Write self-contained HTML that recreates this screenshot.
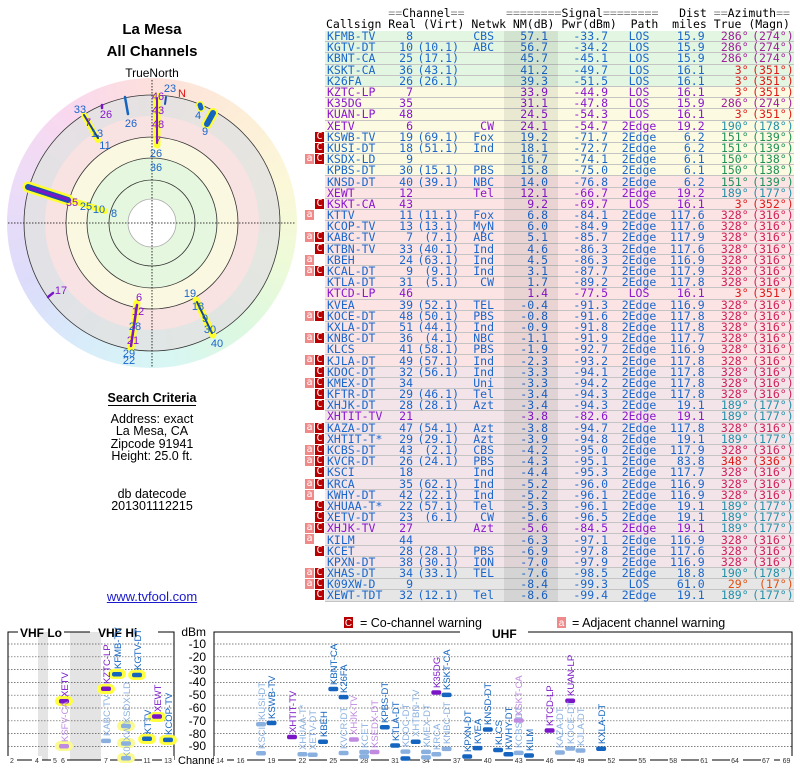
<!DOCTYPE html>
<html><head><meta charset="utf-8">
<style>
body{margin:0;background:#fff;width:800px;height:768px;overflow:hidden;position:relative;font-family:"Liberation Sans",sans-serif}
.abs{position:absolute}
.ttl{left:0;width:304px;text-align:center;font-weight:bold;font-size:15px;color:#000}
.crit{left:0;width:304px;text-align:center;font-size:12.5px;line-height:12.3px;color:#000}
pre{margin:0;font-family:"DejaVu Sans Mono",monospace;font-size:11.5px;line-height:11px;color:#000}
table{position:absolute;left:305px;top:31px;border-collapse:collapse;table-layout:fixed;font-family:"DejaVu Sans Mono",monospace;font-size:11.5px;color:#1a66cc}
td{height:10.19px;padding:0;line-height:10px;white-space:nowrap;overflow:visible;border-bottom:1px solid #c4c4c4;text-align:right}
td.i{background:#fff;border-bottom:1px solid #fff;text-align:left;position:relative}
td.c{text-align:left;padding-left:2px}
td.p{text-align:center}
tr.g td{background:#e3f6e1}tr.y td{background:#fcfbe2}tr.k td{background:#fce4e4}tr.l td{background:#f2e4e8}tr.x td{background:#e6e6e6}
tr td.i{background:#fff}
tr.v td{color:#8a16d0}
.a{position:absolute;left:0;top:0;width:9px;height:10px;background:#f08a8a;color:#fff;font-size:10px;line-height:9px;text-align:center}
.C{position:absolute;left:10px;top:0;width:9px;height:10px;background:#b80000;color:#fff;font-size:10px;line-height:10px;text-align:center}
.az1{color:#a0209a!important}.az2{color:#e01818!important}.az3{color:#2390a8!important}.az4{color:#20905a!important}.az5{color:#d0205a!important}.az6{color:#e05010!important}
</style></head><body>

<div class="abs ttl" style="top:21px">La Mesa</div>
<div class="abs ttl" style="top:43px">All Channels</div>
<div class="abs" style="left:0;width:304px;text-align:center;top:66px;font-size:12px">TrueNorth</div>

<div class="abs" style="left:7px;top:78px;width:290px;height:290px;border-radius:50%;background:conic-gradient(from 0deg,#fde0dc 0deg,#fdeed8 40deg,#fbf8d8 75deg,#eefad8 105deg,#dcf8e0 140deg,#d8f6f4 175deg,#d8ecfa 210deg,#dcdcfa 245deg,#ecdcf8 285deg,#fad8ee 325deg,#fde0dc 360deg)"></div>
<svg class="abs" style="left:0;top:60px" width="304" height="320" viewBox="0 60 304 320">
<circle cx="152" cy="223" r="128" fill="#e2e2e2" fill-opacity="0.85"/>
<circle cx="152" cy="223" r="107" fill="#fce2e2" fill-opacity="0.85"/>
<circle cx="152" cy="223" r="86" fill="#fcfbe0" fill-opacity="0.85"/>
<circle cx="152" cy="223" r="65" fill="#e2f6de" fill-opacity="0.9"/>
<circle cx="152" cy="223" r="24" fill="#fff"/>
<g fill="none" stroke="#333" stroke-width="0.8">
<circle cx="152" cy="223" r="128"/><circle cx="152" cy="223" r="86"/><circle cx="152" cy="223" r="65"/><circle cx="152" cy="223" r="43"/><circle cx="152" cy="223" r="24" stroke="#aaa"/></g>
<g stroke="#000" stroke-width="0.8" stroke-dasharray="1.5,1.5"><line x1="152" y1="80" x2="152" y2="368"/><line x1="8" y1="223" x2="296" y2="223"/></g>
<g stroke-linecap="round">
<line x1="28" y1="187" x2="68" y2="200" stroke="#ffff30" stroke-width="11"/>
<line x1="70" y1="200" x2="105" y2="211" stroke="#ffff30" stroke-width="6"/>
<line x1="28" y1="187" x2="68" y2="200" stroke="#1a4fb0" stroke-width="6"/>
<line x1="30" y1="188" x2="66" y2="199" stroke="#7a16c8" stroke-width="3"/>
<line x1="157" y1="96" x2="157" y2="145" stroke="#ffff30" stroke-width="7"/>
<line x1="157" y1="98" x2="157" y2="143" stroke="#7a16c8" stroke-width="2"/>
<line x1="166" y1="97" x2="165" y2="104" stroke="#1a4fb0" stroke-width="2"/>
<line x1="200" y1="105" x2="201" y2="108" stroke="#ffff30" stroke-width="8"/>
<line x1="200" y1="105" x2="201" y2="108" stroke="#1565c0" stroke-width="5"/>
<line x1="213" y1="113" x2="207" y2="124" stroke="#ffff30" stroke-width="10"/>
<line x1="213" y1="113" x2="207" y2="124" stroke="#1565c0" stroke-width="6"/>
<line x1="84" y1="115" x2="98" y2="140" stroke="#ffff30" stroke-width="6"/>
<line x1="84" y1="115" x2="98" y2="138" stroke="#1a3f90" stroke-width="2"/>
<line x1="125" y1="97" x2="128" y2="114" stroke="#1565c0" stroke-width="2.5"/>
<line x1="102" y1="105" x2="102" y2="108" stroke="#7a16c8" stroke-width="2.5"/>
<line x1="48" y1="297" x2="53" y2="293" stroke="#7a16c8" stroke-width="2.5"/>
<line x1="137" y1="303" x2="131" y2="348" stroke="#ffff30" stroke-width="7"/>
<line x1="137" y1="305" x2="131" y2="346" stroke="#7a16c8" stroke-width="2.5"/>
<line x1="196" y1="300" x2="213" y2="335" stroke="#ffff30" stroke-width="7"/>
<line x1="197" y1="302" x2="212" y2="333" stroke="#1a3f90" stroke-width="2"/>
</g>
<g font-family="Liberation Sans,sans-serif" font-size="11" fill="#1a66cc" text-anchor="middle">
<text x="170" y="92">23</text><text x="182" y="97" fill="#e01010">N</text>
<text x="158" y="100" fill="#8a16d0">46</text><text x="158" y="114" fill="#8a16d0">43</text><text x="158" y="128" fill="#8a16d0">48</text><text x="158" y="144" fill="#8a16d0">7</text>
<text x="156" y="157">26</text><text x="156" y="171">36</text>
<text x="80" y="113">33</text><text x="88" y="126" fill="#8a16d0">7</text><text x="97" y="137">13</text><text x="105" y="149">11</text>
<text x="106" y="118" fill="#8a16d0">26</text><text x="131" y="127">26</text>
<text x="198" y="119">4</text><text x="205" y="135">9</text>
<text x="72" y="206" fill="#8a16d0">35</text><text x="86" y="210">25</text><text x="99" y="213">10</text><text x="114" y="217">8</text>
<text x="61" y="294" fill="#8a16d0">17</text>
<text x="139" y="301" fill="#8a16d0">6</text><text x="138" y="315" fill="#8a16d0">12</text><text x="135" y="330">28</text><text x="133" y="344" fill="#8a16d0">21</text><text x="129" y="357">29</text><text x="129" y="364">22</text>
<text x="190" y="297">19</text><text x="198" y="310">18</text><text x="205" y="322">9</text><text x="210" y="333">30</text><text x="217" y="347">40</text>
</g>
</svg>

<div class="abs" style="left:0;width:304px;text-align:center;top:391px;font-size:12.5px;font-weight:bold"><span style="border-bottom:1.5px solid #000">Search Criteria</span></div>
<div class="abs crit" style="top:413px">Address: exact<br>La Mesa, CA<br>Zipcode 91941<br>Height: 25.0 ft.</div>
<div class="abs crit" style="top:488px">db datecode<br>201301112215</div>
<div class="abs crit" style="top:591px;color:#1a1acc;text-decoration:underline;font-size:13px">www.tvfool.com</div>

<pre class="abs" style="left:326px;top:8px"><span style="color:#888">         ==</span>Channel<span style="color:#888">==</span>      <span style="color:#888">========</span>Signal<span style="color:#888">========</span>   Dist <span style="color:#888">==</span>Azimuth<span style="color:#888">==</span>
Callsign Real (Virt) Netwk NM(dB) Pwr(dBm)  Path  miles True (Magn)</pre>

<div class="abs" style="left:504px;top:31px;width:54px;height:571px;background:rgba(0,0,0,0.075);z-index:2"></div>

<table>
<colgroup><col style="width:20px"><col style="width:60px"><col style="width:28px"><col style="width:46px"><col style="width:35px"><col style="width:54px"><col style="width:60px"><col style="width:62px"><col style="width:33px"><col style="width:44px"><col style="width:45px"></colgroup>
<tr class="g"><td class="i"></td><td class="c">KFMB-TV</td><td>8</td><td></td><td>CBS</td><td>57.1</td><td>-33.7</td><td class="p">LOS</td><td>15.9</td><td class="az1">286°</td><td class="az1">(274°)</td></tr>
<tr class="g"><td class="i"></td><td class="c">KGTV-DT</td><td>10</td><td>(10.1)</td><td>ABC</td><td>56.7</td><td>-34.2</td><td class="p">LOS</td><td>15.9</td><td class="az1">286°</td><td class="az1">(274°)</td></tr>
<tr class="g"><td class="i"></td><td class="c">KBNT-CA</td><td>25</td><td>(17.1)</td><td></td><td>45.7</td><td>-45.1</td><td class="p">LOS</td><td>15.9</td><td class="az1">286°</td><td class="az1">(274°)</td></tr>
<tr class="g"><td class="i"></td><td class="c">KSKT-CA</td><td>36</td><td>(43.1)</td><td></td><td>41.2</td><td>-49.7</td><td class="p">LOS</td><td>16.1</td><td class="az2">3°</td><td class="az2">(351°)</td></tr>
<tr class="g"><td class="i"></td><td class="c">K26FA</td><td>26</td><td>(26.1)</td><td></td><td>39.3</td><td>-51.5</td><td class="p">LOS</td><td>16.1</td><td class="az2">3°</td><td class="az2">(351°)</td></tr>
<tr class="y v"><td class="i"></td><td class="c">KZTC-LP</td><td>7</td><td></td><td></td><td>33.9</td><td>-44.9</td><td class="p">LOS</td><td>16.1</td><td class="az2">3°</td><td class="az2">(351°)</td></tr>
<tr class="y v"><td class="i"></td><td class="c">K35DG</td><td>35</td><td></td><td></td><td>31.1</td><td>-47.8</td><td class="p">LOS</td><td>15.9</td><td class="az1">286°</td><td class="az1">(274°)</td></tr>
<tr class="y v"><td class="i"></td><td class="c">KUAN-LP</td><td>48</td><td></td><td></td><td>24.5</td><td>-54.3</td><td class="p">LOS</td><td>16.1</td><td class="az2">3°</td><td class="az2">(351°)</td></tr>
<tr class="y v"><td class="i"></td><td class="c">XETV</td><td>6</td><td></td><td>CW</td><td>24.1</td><td>-54.7</td><td class="p">2Edge</td><td>19.2</td><td class="az3">190°</td><td class="az3">(178°)</td></tr>
<tr class="y"><td class="i"><span class="C">C</span></td><td class="c">KSWB-TV</td><td>19</td><td>(69.1)</td><td>Fox</td><td>19.2</td><td>-71.7</td><td class="p">2Edge</td><td>6.2</td><td class="az4">151°</td><td class="az4">(139°)</td></tr>
<tr class="y"><td class="i"><span class="C">C</span></td><td class="c">KUSI-DT</td><td>18</td><td>(51.1)</td><td>Ind</td><td>18.1</td><td>-72.7</td><td class="p">2Edge</td><td>6.2</td><td class="az4">151°</td><td class="az4">(139°)</td></tr>
<tr class="y"><td class="i"><span class="a">a</span><span class="C">C</span></td><td class="c">KSDX-LD</td><td>9</td><td></td><td></td><td>16.7</td><td>-74.1</td><td class="p">2Edge</td><td>6.1</td><td class="az4">150°</td><td class="az4">(138°)</td></tr>
<tr class="y"><td class="i"></td><td class="c">KPBS-DT</td><td>30</td><td>(15.1)</td><td>PBS</td><td>15.8</td><td>-75.0</td><td class="p">2Edge</td><td>6.1</td><td class="az4">150°</td><td class="az4">(138°)</td></tr>
<tr class="k"><td class="i"></td><td class="c">KNSD-DT</td><td>40</td><td>(39.1)</td><td>NBC</td><td>14.0</td><td>-76.8</td><td class="p">2Edge</td><td>6.2</td><td class="az4">151°</td><td class="az4">(139°)</td></tr>
<tr class="k v"><td class="i"></td><td class="c">XEWT</td><td>12</td><td></td><td>Tel</td><td>12.1</td><td>-66.7</td><td class="p">2Edge</td><td>19.2</td><td class="az3">189°</td><td class="az3">(177°)</td></tr>
<tr class="k v"><td class="i"><span class="C">C</span></td><td class="c">KSKT-CA</td><td>43</td><td></td><td></td><td>9.2</td><td>-69.7</td><td class="p">LOS</td><td>16.1</td><td class="az2">3°</td><td class="az2">(352°)</td></tr>
<tr class="k"><td class="i"><span class="a">a</span></td><td class="c">KTTV</td><td>11</td><td>(11.1)</td><td>Fox</td><td>6.8</td><td>-84.1</td><td class="p">2Edge</td><td>117.6</td><td class="az5">328°</td><td class="az5">(316°)</td></tr>
<tr class="k"><td class="i"></td><td class="c">KCOP-TV</td><td>13</td><td>(13.1)</td><td>MyN</td><td>6.0</td><td>-84.9</td><td class="p">2Edge</td><td>117.6</td><td class="az5">328°</td><td class="az5">(316°)</td></tr>
<tr class="k"><td class="i"><span class="a">a</span><span class="C">C</span></td><td class="c">KABC-TV</td><td>7</td><td>(7.1)</td><td>ABC</td><td>5.1</td><td>-85.7</td><td class="p">2Edge</td><td>117.9</td><td class="az5">328°</td><td class="az5">(316°)</td></tr>
<tr class="k"><td class="i"><span class="C">C</span></td><td class="c">KTBN-TV</td><td>33</td><td>(40.1)</td><td>Ind</td><td>4.6</td><td>-86.3</td><td class="p">2Edge</td><td>117.6</td><td class="az5">328°</td><td class="az5">(316°)</td></tr>
<tr class="k"><td class="i"><span class="a">a</span></td><td class="c">KBEH</td><td>24</td><td>(63.1)</td><td>Ind</td><td>4.5</td><td>-86.3</td><td class="p">2Edge</td><td>116.9</td><td class="az5">328°</td><td class="az5">(316°)</td></tr>
<tr class="k"><td class="i"><span class="a">a</span><span class="C">C</span></td><td class="c">KCAL-DT</td><td>9</td><td>(9.1)</td><td>Ind</td><td>3.1</td><td>-87.7</td><td class="p">2Edge</td><td>117.9</td><td class="az5">328°</td><td class="az5">(316°)</td></tr>
<tr class="k"><td class="i"></td><td class="c">KTLA-DT</td><td>31</td><td>(5.1)</td><td>CW</td><td>1.7</td><td>-89.2</td><td class="p">2Edge</td><td>117.8</td><td class="az5">328°</td><td class="az5">(316°)</td></tr>
<tr class="k v"><td class="i"></td><td class="c">KTCD-LP</td><td>46</td><td></td><td></td><td>1.4</td><td>-77.5</td><td class="p">LOS</td><td>16.1</td><td class="az2">3°</td><td class="az2">(351°)</td></tr>
<tr class="k"><td class="i"></td><td class="c">KVEA</td><td>39</td><td>(52.1)</td><td>TEL</td><td>-0.4</td><td>-91.3</td><td class="p">2Edge</td><td>116.9</td><td class="az5">328°</td><td class="az5">(316°)</td></tr>
<tr class="k"><td class="i"><span class="a">a</span><span class="C">C</span></td><td class="c">KOCE-DT</td><td>48</td><td>(50.1)</td><td>PBS</td><td>-0.8</td><td>-91.6</td><td class="p">2Edge</td><td>117.8</td><td class="az5">328°</td><td class="az5">(316°)</td></tr>
<tr class="k"><td class="i"></td><td class="c">KXLA-DT</td><td>51</td><td>(44.1)</td><td>Ind</td><td>-0.9</td><td>-91.8</td><td class="p">2Edge</td><td>117.8</td><td class="az5">328°</td><td class="az5">(316°)</td></tr>
<tr class="k"><td class="i"><span class="a">a</span><span class="C">C</span></td><td class="c">KNBC-DT</td><td>36</td><td>(4.1)</td><td>NBC</td><td>-1.1</td><td>-91.9</td><td class="p">2Edge</td><td>117.7</td><td class="az5">328°</td><td class="az5">(316°)</td></tr>
<tr class="k"><td class="i"></td><td class="c">KLCS</td><td>41</td><td>(58.1)</td><td>PBS</td><td>-1.9</td><td>-92.7</td><td class="p">2Edge</td><td>116.9</td><td class="az5">328°</td><td class="az5">(316°)</td></tr>
<tr class="k"><td class="i"><span class="a">a</span><span class="C">C</span></td><td class="c">KJLA-DT</td><td>49</td><td>(57.1)</td><td>Ind</td><td>-2.3</td><td>-93.2</td><td class="p">2Edge</td><td>117.8</td><td class="az5">328°</td><td class="az5">(316°)</td></tr>
<tr class="l"><td class="i"><span class="C">C</span></td><td class="c">KDOC-DT</td><td>32</td><td>(56.1)</td><td>Ind</td><td>-3.3</td><td>-94.1</td><td class="p">2Edge</td><td>117.8</td><td class="az5">328°</td><td class="az5">(316°)</td></tr>
<tr class="l"><td class="i"><span class="a">a</span><span class="C">C</span></td><td class="c">KMEX-DT</td><td>34</td><td></td><td>Uni</td><td>-3.3</td><td>-94.2</td><td class="p">2Edge</td><td>117.8</td><td class="az5">328°</td><td class="az5">(316°)</td></tr>
<tr class="l"><td class="i"><span class="C">C</span></td><td class="c">KFTR-DT</td><td>29</td><td>(46.1)</td><td>Tel</td><td>-3.4</td><td>-94.3</td><td class="p">2Edge</td><td>117.8</td><td class="az5">328°</td><td class="az5">(316°)</td></tr>
<tr class="l"><td class="i"><span class="C">C</span></td><td class="c">XHJK-DT</td><td>28</td><td>(28.1)</td><td>Azt</td><td>-3.4</td><td>-94.3</td><td class="p">2Edge</td><td>19.1</td><td class="az3">189°</td><td class="az3">(177°)</td></tr>
<tr class="l v"><td class="i"></td><td class="c">XHTIT-TV</td><td>21</td><td></td><td></td><td>-3.8</td><td>-82.6</td><td class="p">2Edge</td><td>19.1</td><td class="az3">189°</td><td class="az3">(177°)</td></tr>
<tr class="l"><td class="i"><span class="a">a</span><span class="C">C</span></td><td class="c">KAZA-DT</td><td>47</td><td>(54.1)</td><td>Azt</td><td>-3.8</td><td>-94.7</td><td class="p">2Edge</td><td>117.8</td><td class="az5">328°</td><td class="az5">(316°)</td></tr>
<tr class="l"><td class="i"><span class="C">C</span></td><td class="c">XHTIT-T*</td><td>29</td><td>(29.1)</td><td>Azt</td><td>-3.9</td><td>-94.8</td><td class="p">2Edge</td><td>19.1</td><td class="az3">189°</td><td class="az3">(177°)</td></tr>
<tr class="l"><td class="i"><span class="a">a</span><span class="C">C</span></td><td class="c">KCBS-DT</td><td>43</td><td>(2.1)</td><td>CBS</td><td>-4.2</td><td>-95.0</td><td class="p">2Edge</td><td>117.9</td><td class="az5">328°</td><td class="az5">(316°)</td></tr>
<tr class="l"><td class="i"><span class="a">a</span><span class="C">C</span></td><td class="c">KVCR-DT</td><td>26</td><td>(24.1)</td><td>PBS</td><td>-4.3</td><td>-95.1</td><td class="p">2Edge</td><td>83.8</td><td class="az2">348°</td><td class="az2">(336°)</td></tr>
<tr class="l"><td class="i"><span class="C">C</span></td><td class="c">KSCI</td><td>18</td><td></td><td>Ind</td><td>-4.4</td><td>-95.3</td><td class="p">2Edge</td><td>117.7</td><td class="az5">328°</td><td class="az5">(316°)</td></tr>
<tr class="l"><td class="i"><span class="a">a</span><span class="C">C</span></td><td class="c">KRCA</td><td>35</td><td>(62.1)</td><td>Ind</td><td>-5.2</td><td>-96.0</td><td class="p">2Edge</td><td>116.9</td><td class="az5">328°</td><td class="az5">(316°)</td></tr>
<tr class="l"><td class="i"><span class="a">a</span></td><td class="c">KWHY-DT</td><td>42</td><td>(22.1)</td><td>Ind</td><td>-5.2</td><td>-96.1</td><td class="p">2Edge</td><td>116.9</td><td class="az5">328°</td><td class="az5">(316°)</td></tr>
<tr class="l"><td class="i"><span class="C">C</span></td><td class="c">XHUAA-T*</td><td>22</td><td>(57.1)</td><td>Tel</td><td>-5.3</td><td>-96.1</td><td class="p">2Edge</td><td>19.1</td><td class="az3">189°</td><td class="az3">(177°)</td></tr>
<tr class="l"><td class="i"><span class="C">C</span></td><td class="c">XETV-DT</td><td>23</td><td>(6.1)</td><td>CW</td><td>-5.6</td><td>-96.5</td><td class="p">2Edge</td><td>19.1</td><td class="az3">189°</td><td class="az3">(177°)</td></tr>
<tr class="l v"><td class="i"><span class="a">a</span><span class="C">C</span></td><td class="c">XHJK-TV</td><td>27</td><td></td><td>Azt</td><td>-5.6</td><td>-84.5</td><td class="p">2Edge</td><td>19.1</td><td class="az3">189°</td><td class="az3">(177°)</td></tr>
<tr class="l"><td class="i"><span class="a">a</span></td><td class="c">KILM</td><td>44</td><td></td><td></td><td>-6.3</td><td>-97.1</td><td class="p">2Edge</td><td>116.9</td><td class="az5">328°</td><td class="az5">(316°)</td></tr>
<tr class="l"><td class="i"><span class="C">C</span></td><td class="c">KCET</td><td>28</td><td>(28.1)</td><td>PBS</td><td>-6.9</td><td>-97.8</td><td class="p">2Edge</td><td>117.6</td><td class="az5">328°</td><td class="az5">(316°)</td></tr>
<tr class="l"><td class="i"></td><td class="c">KPXN-DT</td><td>38</td><td>(30.1)</td><td>ION</td><td>-7.0</td><td>-97.9</td><td class="p">2Edge</td><td>116.9</td><td class="az5">328°</td><td class="az5">(316°)</td></tr>
<tr class="x"><td class="i"><span class="a">a</span><span class="C">C</span></td><td class="c">XHAS-DT</td><td>34</td><td>(33.1)</td><td>TEL</td><td>-7.6</td><td>-98.5</td><td class="p">2Edge</td><td>18.8</td><td class="az3">190°</td><td class="az3">(178°)</td></tr>
<tr class="x"><td class="i"><span class="a">a</span><span class="C">C</span></td><td class="c">K09XW-D</td><td>9</td><td></td><td></td><td>-8.4</td><td>-99.3</td><td class="p">LOS</td><td>61.0</td><td class="az6">29°</td><td class="az6">(17°)</td></tr>
<tr class="x"><td class="i"><span class="C">C</span></td><td class="c">XEWT-TDT</td><td>32</td><td>(12.1)</td><td>Tel</td><td>-8.6</td><td>-99.4</td><td class="p">2Edge</td><td>19.1</td><td class="az3">189°</td><td class="az3">(177°)</td></tr>
</table>

<svg class="abs" style="left:0;top:610px" width="800" height="158" viewBox="0 610 800 158" font-family="Liberation Sans,sans-serif">
<rect x="344" y="617" width="9" height="11" fill="#b80000"/><text x="348.5" y="626" font-size="10" fill="#fff" text-anchor="middle">C</text>
<text x="360" y="627" font-size="12.5">= Co-channel warning</text>
<rect x="557" y="617" width="9" height="11" fill="#f08a8a"/><text x="561.5" y="626" font-size="10" fill="#fff" text-anchor="middle">a</text>
<text x="572" y="627" font-size="12.5">= Adjacent channel warning</text>
<rect x="38" y="632" width="10" height="128" fill="#e4e4e4"/>
<rect x="70" y="632" width="31" height="128" fill="#e4e4e4"/>
<g fill="none" stroke="#000" stroke-width="1">
<polyline points="8,760 8,632 18,632"/><polyline points="64,632 90,632"/><polyline points="158,632 174,632 174,760"/>
<polyline points="214,760 214,632 460,632"/><polyline points="528,632 792,632 792,760"/>
</g>
<g stroke="#555" stroke-width="0.7" stroke-dasharray="1.5,1.5">
<line x1="8" y1="644" x2="174" y2="644"/><line x1="8" y1="656.8" x2="174" y2="656.8"/><line x1="8" y1="669.6" x2="174" y2="669.6"/><line x1="8" y1="682.4" x2="174" y2="682.4"/><line x1="8" y1="695.2" x2="174" y2="695.2"/><line x1="8" y1="708" x2="174" y2="708"/><line x1="8" y1="720.8" x2="174" y2="720.8"/><line x1="8" y1="733.6" x2="174" y2="733.6"/><line x1="8" y1="746.4" x2="174" y2="746.4"/>
<line x1="214" y1="644" x2="792" y2="644"/><line x1="214" y1="656.8" x2="792" y2="656.8"/><line x1="214" y1="669.6" x2="792" y2="669.6"/><line x1="214" y1="682.4" x2="792" y2="682.4"/><line x1="214" y1="695.2" x2="792" y2="695.2"/><line x1="214" y1="708" x2="792" y2="708"/><line x1="214" y1="720.8" x2="792" y2="720.8"/><line x1="214" y1="733.6" x2="792" y2="733.6"/><line x1="214" y1="746.4" x2="792" y2="746.4"/>
</g>
<g font-size="12" font-weight="bold"><text x="20" y="637">VHF Lo</text><text x="98" y="637">VHF Hi</text><text x="492" y="638">UHF</text></g>
<g font-size="12" text-anchor="end"><text x="206" y="636">dBm</text>
<text x="206" y="648">-10</text><text x="206" y="661">-20</text><text x="206" y="674">-30</text><text x="206" y="686">-40</text><text x="206" y="699">-50</text><text x="206" y="712">-60</text><text x="206" y="725">-70</text><text x="206" y="738">-80</text><text x="206" y="750">-90</text></g>
<line x1="8" y1="760" x2="174" y2="760" stroke="#000"/><line x1="214" y1="760" x2="792" y2="760" stroke="#000"/>
<text x="178" y="764" font-size="11">Channel</text>
<g font-size="7" text-anchor="middle" fill="#333">
<g fill="#fff"><rect x="7" y="756" width="10" height="9"/><rect x="32" y="756" width="10" height="9"/><rect x="51" y="756" width="16" height="9"/><rect x="101" y="756" width="9" height="9"/><rect x="119" y="756" width="14" height="9"/><rect x="142" y="756" width="10" height="9"/><rect x="162" y="756" width="12" height="9"/></g>
<text x="12" y="763">2</text><text x="37" y="763">4</text><text x="55" y="763">5</text><text x="63" y="763">6</text><text x="106" y="763">7</text><text x="126" y="763">9</text><text x="147" y="763">11</text><text x="168" y="763">13</text>
</g>
<g font-size="7" text-anchor="middle" fill="#333">
<g fill="#fff"><rect x="214" y="756" width="13" height="9"/><rect x="234" y="756" width="13" height="9"/><rect x="265" y="756" width="13" height="9"/><rect x="296" y="756" width="13" height="9"/><rect x="327" y="756" width="13" height="9"/><rect x="358" y="756" width="13" height="9"/><rect x="389" y="756" width="13" height="9"/><rect x="420" y="756" width="13" height="9"/><rect x="451" y="756" width="13" height="9"/><rect x="482" y="756" width="13" height="9"/><rect x="513" y="756" width="13" height="9"/><rect x="544" y="756" width="13" height="9"/><rect x="575" y="756" width="13" height="9"/><rect x="606" y="756" width="13" height="9"/><rect x="637" y="756" width="13" height="9"/><rect x="668" y="756" width="13" height="9"/><rect x="699" y="756" width="13" height="9"/><rect x="730" y="756" width="13" height="9"/><rect x="761" y="756" width="13" height="9"/><rect x="780" y="756" width="13" height="9"/></g>
<text x="220" y="763">14</text><text x="240.6" y="763">16</text><text x="271.5" y="763">19</text><text x="302.4" y="763">22</text><text x="333.3" y="763">25</text><text x="364.2" y="763">28</text><text x="395.1" y="763">31</text><text x="426" y="763">34</text><text x="456.9" y="763">37</text><text x="487.8" y="763">40</text><text x="518.7" y="763">43</text><text x="549.6" y="763">46</text><text x="580.5" y="763">49</text><text x="611.4" y="763">52</text><text x="642.3" y="763">55</text><text x="673.2" y="763">58</text><text x="704.1" y="763">61</text><text x="735" y="763">64</text><text x="765.9" y="763">67</text><text x="786.5" y="763">69</text>
</g>
<g fill="#ffff40">
<rect x="55" y="696" width="18" height="10" rx="5"/><rect x="55" y="741" width="18" height="10" rx="5" fill="#fafa90"/>
<rect x="97" y="684" width="18" height="10" rx="5"/><rect x="108" y="669" width="18" height="10" rx="5"/><rect x="128" y="670" width="18" height="10" rx="5"/>
<rect x="117" y="721" width="18" height="10" rx="5" fill="#fafa90"/><rect x="117" y="738" width="18" height="10" rx="5" fill="#fafa90"/><rect x="117" y="753" width="18" height="10" rx="5" fill="#fafa90"/>
<rect x="138" y="734" width="18" height="10" rx="5"/><rect x="148" y="712" width="18" height="10" rx="5"/><rect x="159" y="735" width="18" height="10" rx="5"/>
</g>
<g>
<rect x="59" y="699" width="10" height="4.5" rx="2" fill="#7a16c8"/><rect x="59" y="744" width="10" height="4.5" rx="2" fill="#c08ae0"/>
<rect x="101" y="686.5" width="10" height="4.5" rx="2" fill="#7a16c8"/><rect x="101" y="738.6" width="10" height="4.5" rx="2" fill="#8ab0e0"/>
<rect x="112" y="672" width="10" height="4.5" rx="2" fill="#1565c0"/><rect x="132" y="672.7" width="10" height="4.5" rx="2" fill="#1565c0"/>
<rect x="121" y="723.7" width="10" height="4.5" rx="2" fill="#8ab0e0"/><rect x="121" y="741.2" width="10" height="4.5" rx="2" fill="#8ab0e0"/><rect x="121" y="756" width="10" height="4.5" rx="2" fill="#8ab0e0"/>
<rect x="142" y="736.5" width="10" height="4.5" rx="2" fill="#1565c0"/><rect x="152" y="714.3" width="10" height="4.5" rx="2" fill="#7a16c8"/><rect x="163" y="737.6" width="10" height="4.5" rx="2" fill="#1565c0"/>
</g>
<g font-size="9.5">
<text transform="translate(68,697) rotate(-90)" fill="#7a16c8">XETV</text>
<text transform="translate(68,742) rotate(-90)" fill="#c08ae0">KSFV-CA</text>
<text transform="translate(110,684) rotate(-90)" fill="#7a16c8">KZTC-LP</text>
<text transform="translate(110,736) rotate(-90)" fill="#8ab0e0">KABC-TV</text>
<text transform="translate(121,669) rotate(-90)" fill="#1565c0">KFMB-TV</text>
<text transform="translate(141,670) rotate(-90)" fill="#1565c0">KGTV-DT</text>
<text transform="translate(130,758) rotate(-90)" fill="#8ab0e0">K09XW/KSDX-LD</text>
<text transform="translate(151,734) rotate(-90)" fill="#1565c0">KTTV</text>
<text transform="translate(161,712) rotate(-90)" fill="#7a16c8">XEWT</text>
<text transform="translate(172,735) rotate(-90)" fill="#1565c0">KCOP-TV</text>
</g>
<g>
<rect x="256" y="751" width="10" height="4.5" rx="2" fill="#8ab0e0"/><rect x="256" y="722" width="10" height="4.5" rx="2" fill="#8ab0e0"/>
<rect x="266.5" y="720.8" width="10" height="4.5" rx="2" fill="#1565c0"/>
<rect x="287" y="734.7" width="10" height="4.5" rx="2" fill="#7a16c8"/>
<rect x="297.4" y="752" width="10" height="4.5" rx="2" fill="#8ab0e0"/><rect x="307.7" y="752.5" width="10" height="4.5" rx="2" fill="#8ab0e0"/>
<rect x="318" y="739.5" width="10" height="4.5" rx="2" fill="#1565c0"/>
<rect x="328.3" y="686.7" width="10" height="4.5" rx="2" fill="#1565c0"/>
<rect x="338.6" y="694.9" width="10" height="4.5" rx="2" fill="#1565c0"/><rect x="338.6" y="750.7" width="10" height="4.5" rx="2" fill="#8ab0e0"/>
<rect x="348.9" y="737.2" width="10" height="4.5" rx="2" fill="#c08ae0"/>
<rect x="359.2" y="754.2" width="10" height="4.5" rx="2" fill="#8ab0e0"/><rect x="359.2" y="749.7" width="10" height="4.5" rx="2" fill="#8ab0e0"/>
<rect x="369.5" y="749.7" width="10" height="4.5" rx="2" fill="#c08ae0"/>
<rect x="379.8" y="725" width="10" height="4.5" rx="2" fill="#1565c0"/>
<rect x="390.1" y="743.2" width="10" height="4.5" rx="2" fill="#1565c0"/>
<rect x="400.4" y="749.4" width="10" height="4.5" rx="2" fill="#8ab0e0"/><rect x="400.4" y="756.2" width="10" height="4.5" rx="2" fill="#1565c0"/>
<rect x="410.7" y="739.5" width="10" height="4.5" rx="2" fill="#1565c0"/>
<rect x="421" y="749.6" width="10" height="4.5" rx="2" fill="#8ab0e0"/><rect x="421" y="755.1" width="10" height="4.5" rx="2" fill="#8ab0e0"/>
<rect x="431.3" y="690.2" width="10" height="4.5" rx="2" fill="#7a16c8"/><rect x="431.3" y="752" width="10" height="4.5" rx="2" fill="#8ab0e0"/>
<rect x="441.6" y="692.6" width="10" height="4.5" rx="2" fill="#1565c0"/><rect x="441.6" y="746.6" width="10" height="4.5" rx="2" fill="#8ab0e0"/>
<rect x="462.2" y="754.3" width="10" height="4.5" rx="2" fill="#1565c0"/>
<rect x="472.5" y="745.9" width="10" height="4.5" rx="2" fill="#1565c0"/>
<rect x="482.8" y="727.3" width="10" height="4.5" rx="2" fill="#1565c0"/>
<rect x="493.1" y="747.7" width="10" height="4.5" rx="2" fill="#1565c0"/>
<rect x="503.4" y="752" width="10" height="4.5" rx="2" fill="#1565c0"/>
<rect x="513.7" y="750.6" width="10" height="4.5" rx="2" fill="#8ab0e0"/><rect x="513.7" y="718.2" width="10" height="4.5" rx="2" fill="#c08ae0"/>
<rect x="524" y="753.3" width="10" height="4.5" rx="2" fill="#1565c0"/>
<rect x="544.6" y="728.2" width="10" height="4.5" rx="2" fill="#7a16c8"/>
<rect x="554.9" y="750.2" width="10" height="4.5" rx="2" fill="#8ab0e0"/>
<rect x="565.2" y="746.2" width="10" height="4.5" rx="2" fill="#8ab0e0"/><rect x="565.2" y="698.5" width="10" height="4.5" rx="2" fill="#7a16c8"/>
<rect x="575.5" y="748.3" width="10" height="4.5" rx="2" fill="#8ab0e0"/>
<rect x="596.1" y="746.5" width="10" height="4.5" rx="2" fill="#1565c0"/>
</g>
<g font-size="9.5">
<text transform="translate(265,749) rotate(-90)" fill="#8ab0e0">KSCI</text>
<text transform="translate(265,720) rotate(-90)" fill="#8ab0e0">KUSI-DT</text>
<text transform="translate(275,719) rotate(-90)" fill="#1565c0">KSWB-TV</text>
<text transform="translate(296,733) rotate(-90)" fill="#7a16c8">XHTIT-TV</text>
<text transform="translate(306,750) rotate(-90)" fill="#8ab0e0">XHUAA-T*</text>
<text transform="translate(316,750) rotate(-90)" fill="#8ab0e0">XETV-DT</text>
<text transform="translate(327,737) rotate(-90)" fill="#1565c0">KBEH</text>
<text transform="translate(337,685) rotate(-90)" fill="#1565c0">KBNT-CA</text>
<text transform="translate(347,693) rotate(-90)" fill="#1565c0">K26FA</text>
<text transform="translate(347,749) rotate(-90)" fill="#8ab0e0">KVCR-DT</text>
<text transform="translate(357,735) rotate(-90)" fill="#c08ae0">XHJK-TV</text>
<text transform="translate(368,748) rotate(-90)" fill="#8ab0e0">KCET</text>
<text transform="translate(378,748) rotate(-90)" fill="#c08ae0">KSEDX-DT</text>
<text transform="translate(388,723) rotate(-90)" fill="#1565c0">KPBS-DT</text>
<text transform="translate(399,741) rotate(-90)" fill="#1565c0">KTLA-DT</text>
<text transform="translate(409,747) rotate(-90)" fill="#8ab0e0">KDOC-DT</text>
<text transform="translate(419,737) rotate(-90)" fill="#8ab0e0">XHTBN-TV</text>
<text transform="translate(430,747) rotate(-90)" fill="#8ab0e0">KMEX-DT</text>
<text transform="translate(440,688) rotate(-90)" fill="#7a16c8">K35DG</text>
<text transform="translate(440,750) rotate(-90)" fill="#8ab0e0">KRCA</text>
<text transform="translate(450,690) rotate(-90)" fill="#1565c0">KSKT-CA</text>
<text transform="translate(450,744) rotate(-90)" fill="#8ab0e0">KNBC-DT</text>
<text transform="translate(471,752) rotate(-90)" fill="#1565c0">KPXN-DT</text>
<text transform="translate(481,744) rotate(-90)" fill="#1565c0">KVEA</text>
<text transform="translate(491,725) rotate(-90)" fill="#1565c0">KNSD-DT</text>
<text transform="translate(502,745) rotate(-90)" fill="#1565c0">KLCS</text>
<text transform="translate(512,750) rotate(-90)" fill="#1565c0">KWHY-DT</text>
<text transform="translate(522,748) rotate(-90)" fill="#8ab0e0">KCBS-DT</text>
<text transform="translate(522,716) rotate(-90)" fill="#c08ae0">KSKT-CA</text>
<text transform="translate(533,751) rotate(-90)" fill="#1565c0">KILM</text>
<text transform="translate(553,726) rotate(-90)" fill="#7a16c8">KTCD-LP</text>
<text transform="translate(563,748) rotate(-90)" fill="#8ab0e0">KAZA-DT</text>
<text transform="translate(574,744) rotate(-90)" fill="#8ab0e0">KOCE-DT</text>
<text transform="translate(574,696) rotate(-90)" fill="#7a16c8">KUAN-LP</text>
<text transform="translate(584,746) rotate(-90)" fill="#8ab0e0">KJLA-DT</text>
<text transform="translate(605,744) rotate(-90)" fill="#1565c0">KXLA-DT</text>
</g>
</svg>
</body></html>
